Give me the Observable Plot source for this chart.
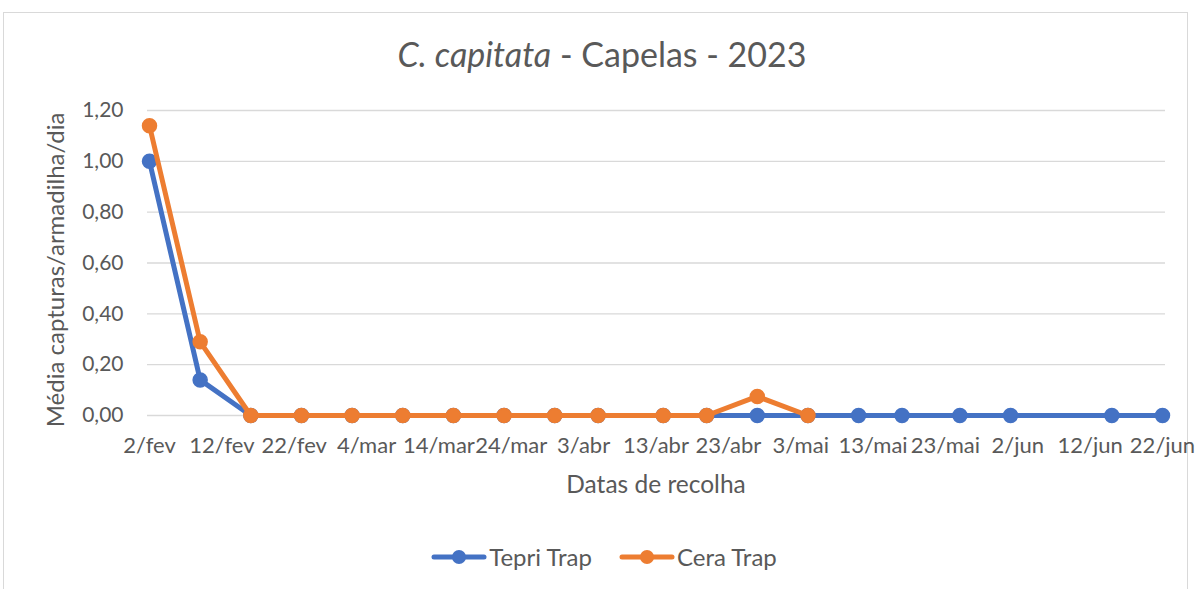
<!DOCTYPE html>
<html>
<head>
<meta charset="utf-8">
<script src="https://cdn.jsdelivr.net/npm/d3@7"></script>
<script src="https://cdn.jsdelivr.net/npm/@observablehq/plot@0.6"></script>
<style>
  html, body { margin: 0; padding: 0; background: #fff; }
  body { width: 1196px; height: 589px; overflow: hidden; font-family: Lato, "Open Sans", sans-serif; color: #595959; }
  #frame { position: absolute; left: 3px; top: 12px; width: 1185px; height: 600px; border: 1px solid #d9d9d9; box-sizing: border-box; }
  #title { position: absolute; left: 4px; top: 24px; width: 1196px; height: 60px; text-align: center; font-size: 34px; line-height: 60px; }
  #chart { position: absolute; left: 0; top: 90px; }
  #chart svg { overflow: visible; }
  #legend { position: absolute; left: 6px; top: 542px; width: 1196px; display: flex; justify-content: center; gap: 27px; font-size: 24px; }
  .item { display: flex; align-items: center; }
  .item span { margin-left: 2px; }
</style>
</head>
<body>
<div id="frame"></div>
<div id="title"><i>C. capitata</i> - Capelas - 2023</div>
<div id="chart"></div>
<div id="legend"></div>
<script>
const dates = ["2023-02-02","2023-02-09","2023-02-16","2023-02-23","2023-03-02","2023-03-09","2023-03-16","2023-03-23","2023-03-30","2023-04-05","2023-04-14","2023-04-20","2023-04-27","2023-05-04","2023-05-11","2023-05-17","2023-05-25","2023-06-01","2023-06-15","2023-06-22"];
const tepri = [1.00,0.14,0,0,0,0,0,0,0,0,0,0,0,0,0,0,0,0,0,0];
const cera  = [1.14,0.29,0,0,0,0,0,0,0,0,0,0,0.075,0];
const seriesNames = ["Tepri Trap","Cera Trap"];
const seriesColors = ["#4472C4","#ED7D31"];
const tickDates = ["2023-02-02","2023-02-12","2023-02-22","2023-03-04","2023-03-14","2023-03-24","2023-04-03","2023-04-13","2023-04-23","2023-05-03","2023-05-13","2023-05-23","2023-06-02","2023-06-12","2023-06-22"];
const monthsPt = ["jan","fev","mar","abr","mai","jun","jul","ago","set","out","nov","dez"];
const yTicks = [0,0.2,0.4,0.6,0.8,1.0,1.2];
const yLabel = "Média capturas/armadilha/dia";
const xLabel = "Datas de recolha";

const parse = d3.utcParse("%Y-%m-%d");
const tData = dates.map((d,i) => ({date: parse(d), v: tepri[i]}));
const cData = cera.map((v,i) => ({date: parse(dates[i]), v}));
const ticks = tickDates.map(parse);
const fmtX = d => `${d.getUTCDate()}/${monthsPt[d.getUTCMonth()]}`;
const fmtY = d => d.toFixed(2).replace(".", ",");

const plot = Plot.plot({
  width: 1196,
  height: 430,
  marginLeft: 149,
  marginRight: 34,
  marginTop: 20,
  marginBottom: 105,
  style: {fontFamily: "Lato, 'Open Sans', sans-serif", color: "#595959", background: "transparent", overflow: "visible"},
  x: {type: "utc", domain: [ticks[0], ticks[ticks.length-1]]},
  y: {domain: [0, 1.2]},
  marks: [
    Plot.ruleY(yTicks, {stroke: "#d9d9d9", strokeWidth: 1.3, insetLeft: -2, insetRight: -3}),
    Plot.axisY({ticks: yTicks, tickFormat: fmtY, tickSize: 0, tickPadding: 26, fontSize: 21, label: null}),
    Plot.axisX({ticks: ticks, tickFormat: fmtX, tickSize: 0, tickPadding: 22, fontSize: 22, label: null}),
    Plot.text([yLabel], {frameAnchor: "left", textAnchor: "middle", dx: -93, dy: 7, rotate: -90, fontSize: 24, fill: "#595959"}),
    Plot.text([xLabel], {frameAnchor: "bottom", dy: 77, fontSize: 24.5, fill: "#595959"}),
    Plot.line(tData, {x: "date", y: "v", stroke: seriesColors[0], strokeWidth: 5, strokeLinejoin: "round"}),
    Plot.dot(tData, {x: "date", y: "v", r: 7, fill: seriesColors[0], stroke: seriesColors[0]}),
    Plot.line(cData, {x: "date", y: "v", stroke: seriesColors[1], strokeWidth: 5, strokeLinejoin: "round"}),
    Plot.dot(cData, {x: "date", y: "v", r: 7, fill: seriesColors[1], stroke: seriesColors[1]})
  ]
});
document.getElementById("chart").appendChild(plot);

const legend = document.getElementById("legend");
seriesNames.forEach((name, i) => {
  const item = document.createElement("div");
  item.className = "item";
  item.innerHTML = `<svg width="56" height="20"><line x1="3" y1="10" x2="53" y2="10" stroke="${seriesColors[i]}" stroke-width="5" stroke-linecap="round"/><circle cx="28" cy="10" r="7" fill="${seriesColors[i]}"/></svg><span>${name}</span>`;
  legend.appendChild(item);
});
</script>
</body>
</html>
